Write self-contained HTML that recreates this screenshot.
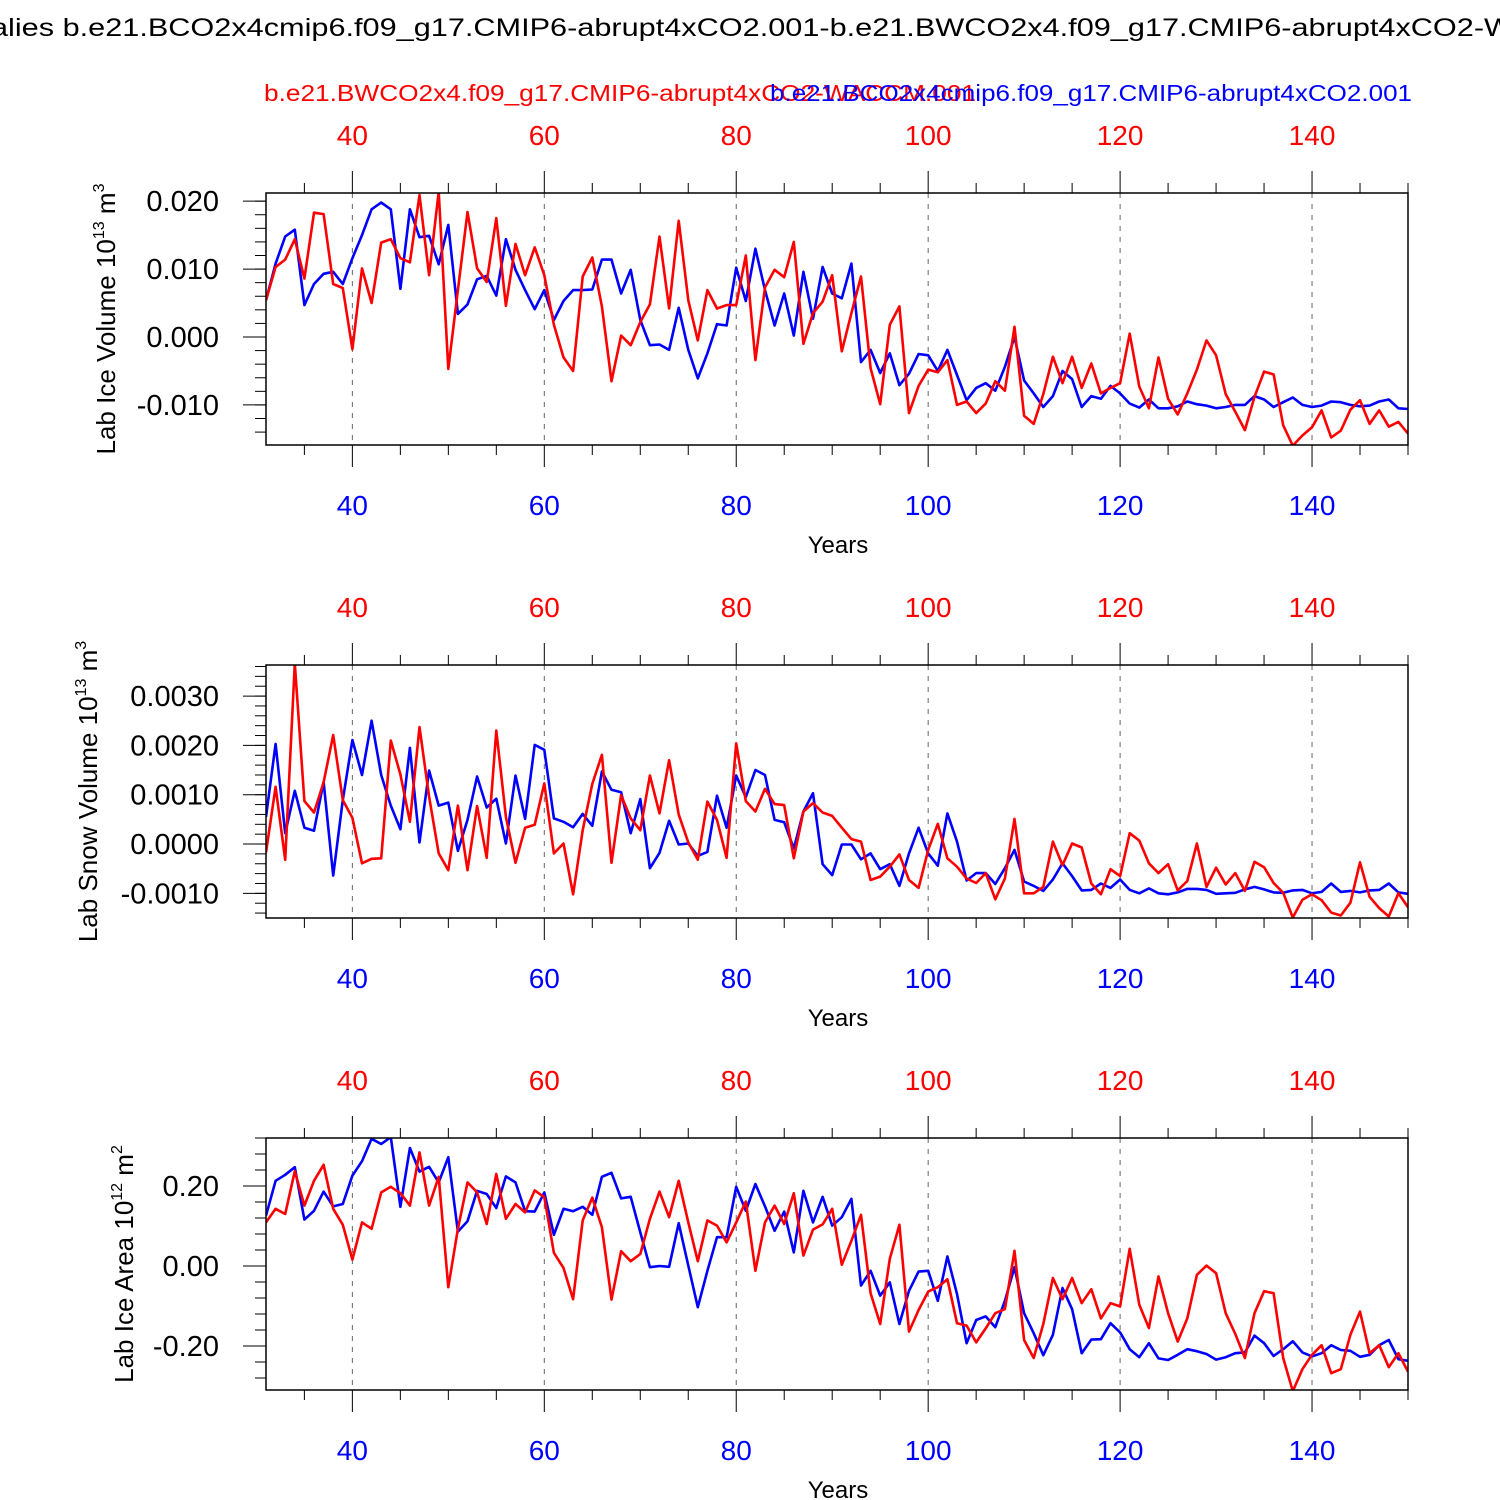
<!DOCTYPE html>
<html><head><meta charset="utf-8"><style>
html,body{margin:0;padding:0;background:#fff;width:1500px;height:1500px;overflow:hidden}
svg{font-family:"Liberation Sans",sans-serif}
</style></head><body>
<svg id="chart" width="1500" height="1500" viewBox="0 0 1500 1500" xmlns="http://www.w3.org/2000/svg">
<text x="-9" y="36" font-size="25" fill="#000" textLength="1522" lengthAdjust="spacingAndGlyphs">alies b.e21.BCO2x4cmip6.f09_g17.CMIP6-abrupt4xCO2.001-b.e21.BWCO2x4.f09_g17.CMIP6-abrupt4xCO2-W</text>
<text x="264" y="101" font-size="23" fill="#f00" textLength="712" lengthAdjust="spacingAndGlyphs">b.e21.BWCO2x4.f09_g17.CMIP6-abrupt4xCO2-WACCM.001</text>
<text x="770" y="101" font-size="23" fill="#00f" textLength="642" lengthAdjust="spacingAndGlyphs">b.e21.BCO2x4cmip6.f09_g17.CMIP6-abrupt4xCO2.001</text>
<g id="panels"></g>
</svg>
<script>
const years = Array.from({length:120},(_,i)=>31+i);
const xTicks = [40,60,80,100,120,140];

const iceVolBlue = [.0054,.0108,.0148,.0158,.0047,.0078,.0093,.0096,.0078,.0116,
.0150,.0188,.0198,.0188,.0071,.0188,.0147,.0149,.0107,.0165,
.0034,.0048,.0085,.0090,.0061,.0144,.0099,.0069,.0041,.0069,
.0025,.0053,.0069,.0069,.0070,.0114,.0114,.0064,.0099,.0025,
-.0012,-.0011,-.0019,.0043,-.0019,-.0061,-.0024,.0019,.0017,.0102,
.0053,.0130,.0069,.0017,.0064,.0002,.0096,.0027,.0103,.0064,
.0057,.0108,-.0037,-.0019,-.0053,-.0024,-.0071,-.0054,-.0025,-.0027,
-.0050,-.0019,-.0056,-.0093,-.0075,-.0068,-.0079,-.0044,.0000,-.0064,
-.0083,-.0103,-.0087,-.0050,-.0062,-.0103,-.0087,-.0091,-.0072,-.0083,
-.0098,-.0104,-.0092,-.0105,-.0105,-.0102,-.0095,-.0099,-.0101,-.0105,
-.0103,-.0100,-.0100,-.0087,-.0092,-.0103,-.0096,-.0089,-.0100,-.0103,
-.0101,-.0095,-.0096,-.0100,-.0102,-.0101,-.0095,-.0092,-.0105,-.0106];
const iceVolRed = [.0054,.0103,.0114,.0144,.0086,.0183,.0181,.0078,.0072,-.0018,
.0101,.0050,.0139,.0144,.0116,.0110,.0209,.0091,.0214,-.0047,
.0069,.0184,.0101,.0081,.0175,.0046,.0137,.0091,.0132,.0091,
.0018,-.0030,-.0050,.0089,.0117,.0045,-.0065,.0002,-.0012,.0022,
.0048,.0148,.0042,.0171,.0054,-.0005,.0069,.0042,.0047,.0047,
.0120,-.0034,.0073,.0099,.0088,.0140,-.0010,.0035,.0052,.0091,
-.0021,.0035,.0089,-.0046,-.0099,.0018,.0045,-.0112,-.0072,-.0048,
-.0052,-.0034,-.0100,-.0095,-.0112,-.0098,-.0065,-.0079,.0015,-.0116,
-.0128,-.0084,-.0029,-.0068,-.0029,-.0075,-.0039,-.0083,-.0075,-.0068,
.0005,-.0073,-.0105,-.0030,-.0091,-.0114,-.0083,-.0048,-.0005,-.0027,
-.0084,-.0110,-.0137,-.0088,-.0051,-.0055,-.0130,-.0160,-.0145,-.0133,
-.0108,-.0148,-.0138,-.0107,-.0093,-.0128,-.0108,-.0132,-.0125,-.0142];

const snowBlueK = [0.55,2.03,0.22,1.08,0.33,0.27,1.26,-0.64,0.89,2.11,
1.40,2.50,1.40,0.78,0.30,1.95,0.03,1.49,0.78,0.84,
-0.14,0.49,1.37,0.74,0.92,0.01,1.39,0.51,2.01,1.91,
0.52,0.45,0.34,0.61,0.37,1.47,1.10,1.05,0.22,0.91,
-0.49,-0.18,0.47,-0.01,0.01,-0.24,-0.16,0.98,0.33,1.39,
0.95,1.50,1.40,0.49,0.44,-0.09,0.66,1.03,-0.41,-0.63,
-0.01,-0.01,-0.31,-0.19,-0.51,-0.41,-0.85,-0.19,0.33,-0.19,
-0.44,0.62,0.05,-0.74,-0.59,-0.59,-0.81,-0.49,-0.12,-0.76,
-0.85,-0.95,-0.72,-0.39,-0.65,-0.94,-0.93,-0.80,-0.89,-0.72,
-0.93,-1.00,-0.90,-1.00,-1.02,-0.98,-0.91,-0.91,-0.93,-1.01,
-1.00,-0.99,-0.92,-0.87,-0.92,-0.98,-0.99,-0.94,-0.93,-1.00,
-0.97,-0.80,-0.97,-0.95,-0.98,-0.94,-0.93,-0.80,-0.98,-1.01];
const snowRedK = [-0.17,1.16,-0.32,3.66,0.87,0.64,1.25,2.21,0.89,0.53,
-0.39,-0.30,-0.29,2.10,1.41,0.45,2.37,0.96,-0.19,-0.53,
0.78,-0.53,0.77,-0.28,2.30,0.55,-0.38,0.33,0.39,1.23,
-0.19,0.01,-1.02,0.28,1.22,1.81,-0.38,0.99,0.52,0.28,
1.39,0.62,1.70,0.60,0.03,-0.32,0.86,0.49,-0.28,2.04,
0.87,0.66,1.12,0.81,0.79,-0.29,0.66,0.83,0.64,0.57,
0.33,0.10,0.05,-0.73,-0.66,-0.46,-0.21,-0.73,-0.89,-0.12,
0.41,-0.29,-0.46,-0.70,-0.79,-0.59,-1.12,-0.70,0.51,-1.00,
-1.00,-0.87,0.05,-0.43,0.01,-0.07,-0.80,-1.02,-0.51,-0.65,
0.22,0.07,-0.39,-0.59,-0.41,-0.94,-0.75,0.01,-0.87,-0.48,
-0.82,-0.59,-0.95,-0.36,-0.47,-0.79,-0.99,-1.49,-1.13,-1.02,
-1.14,-1.39,-1.45,-1.19,-0.37,-1.07,-1.30,-1.47,-1.00,-1.28];

const areaBlue = [0.126,0.213,0.228,0.247,0.116,0.138,0.186,0.149,0.155,0.226,
0.262,0.318,0.305,0.322,0.148,0.295,0.236,0.248,0.209,0.272,
0.086,0.112,0.188,0.180,0.145,0.224,0.209,0.137,0.136,0.184,
0.078,0.143,0.137,0.148,0.128,0.223,0.233,0.169,0.173,0.084,
-0.003,0.000,-0.002,0.107,0.001,-0.103,-0.012,0.072,0.072,0.198,
0.138,0.205,0.149,0.088,0.136,0.034,0.188,0.109,0.173,0.101,
0.122,0.168,-0.049,-0.012,-0.074,-0.041,-0.145,-0.062,-0.014,-0.012,
-0.087,0.024,-0.070,-0.193,-0.135,-0.126,-0.153,-0.087,-0.003,-0.118,
-0.168,-0.223,-0.172,-0.055,-0.108,-0.218,-0.184,-0.183,-0.143,-0.166,
-0.208,-0.228,-0.193,-0.231,-0.235,-0.222,-0.208,-0.213,-0.220,-0.234,
-0.228,-0.218,-0.216,-0.174,-0.193,-0.225,-0.208,-0.188,-0.216,-0.226,
-0.218,-0.198,-0.210,-0.212,-0.227,-0.222,-0.198,-0.185,-0.233,-0.237];
const areaRed = [0.109,0.143,0.130,0.237,0.151,0.213,0.253,0.143,0.103,0.016,
0.109,0.093,0.184,0.198,0.182,0.151,0.284,0.151,0.223,-0.053,
0.093,0.209,0.184,0.105,0.230,0.118,0.155,0.134,0.189,0.172,
0.033,-0.005,-0.083,0.114,0.171,0.097,-0.084,0.037,0.012,0.030,
0.118,0.186,0.122,0.213,0.109,0.012,0.114,0.101,0.059,0.109,
0.161,-0.012,0.109,0.151,0.105,0.182,0.026,0.091,0.104,0.143,
0.003,0.063,0.128,-0.068,-0.145,0.018,0.103,-0.164,-0.110,-0.064,
-0.053,-0.033,-0.143,-0.149,-0.191,-0.156,-0.118,-0.108,0.038,-0.185,
-0.230,-0.145,-0.030,-0.083,-0.030,-0.093,-0.058,-0.131,-0.093,-0.101,
0.043,-0.097,-0.155,-0.026,-0.118,-0.189,-0.131,-0.022,0.001,-0.018,
-0.118,-0.170,-0.230,-0.118,-0.063,-0.068,-0.230,-0.313,-0.258,-0.222,
-0.198,-0.268,-0.258,-0.172,-0.114,-0.218,-0.198,-0.253,-0.218,-0.264];

const snowBlue = snowBlueK.map(v=>v/1000);
const snowRed = snowRedK.map(v=>v/1000);

const iceVolTicks = [0.020,0.010,0.000,-0.010];
const iceVolTickLabels = ["0.020","0.010","0.000","-0.010"];
const snowTicks = [0.003,0.002,0.001,0,-0.001];
const snowTickLabels = ["0.0030","0.0020","0.0010","0.0000","-0.0010"];
const areaTicks = [0.2,0,-0.2];
const areaTickLabels = ["0.20","0.00","-0.20"];

const NS='http://www.w3.org/2000/svg';
const root=document.getElementById('panels');
function mk(tag,attrs,parent){const e=document.createElementNS(NS,tag);for(const k in attrs)e.setAttribute(k,attrs[k]);(parent||root).appendChild(e);return e;}

const X0=266,X1=1408,YR0=31,YR1=150;
const xs=yr=>X0+(yr-YR0)*(X1-X0)/(YR1-YR0);

const panels=[
 {key:'ice-volume',top:193,bot:445,ymax:0.0212,ymin:-0.0159,minor:0.002,blue:iceVolBlue,red:iceVolRed,ticks:iceVolTicks,labels:iceVolTickLabels,title:['Lab Ice Volume 10','13',' m','3'],titleX:115},
 {key:'snow-volume',top:665,bot:918,ymax:0.00363,ymin:-0.0015,minor:0.0002,blue:snowBlue,red:snowRed,ticks:snowTicks,labels:snowTickLabels,title:['Lab Snow Volume 10','13',' m','3'],titleX:97},
 {key:'ice-area',top:1138,bot:1390,ymax:0.32,ymin:-0.31,minor:0.04,blue:areaBlue,red:areaRed,ticks:areaTicks,labels:areaTickLabels,title:['Lab Ice Area 10','12',' m','2'],titleX:133}
];

panels.forEach(p=>{
  const g=mk('g',{});
  
  
  const ys=v=>p.bot-(v-p.ymin)*(p.bot-p.top)/(p.ymax-p.ymin);
  xTicks.forEach(t=>{
    const l=mk('line',{x1:xs(t),x2:xs(t),y1:p.top,y2:p.bot,stroke:'#666','stroke-width':1,'stroke-dasharray':'5,6'},g);
    
    
  });
  for(let yr=35;yr<=150;yr+=5){
    const major=xTicks.includes(yr);const len=major?22:10;
    mk('line',{x1:xs(yr),x2:xs(yr),y1:p.top,y2:p.top-len,stroke:'#000','stroke-width':1},g);
    mk('line',{x1:xs(yr),x2:xs(yr),y1:p.bot,y2:p.bot+len,stroke:'#000','stroke-width':1},g);
  }
  xTicks.forEach(t=>{
    const a=mk('text',{x:xs(t),y:p.top-48,'font-size':28,fill:'#f00','text-anchor':'middle'},g);a.textContent=t;
    
    
    const b=mk('text',{x:xs(t),y:p.bot+70,'font-size':28,fill:'#00f','text-anchor':'middle'},g);b.textContent=t;
    
    
  });
  const xt=mk('text',{x:838,y:p.bot+108,'font-size':24,fill:'#000','text-anchor':'middle'},g);xt.textContent='Years';
  
  
  const start=Math.ceil(p.ymin/p.minor-1e-6);
  for(let k=start;k*p.minor<=p.ymax+1e-9;k++){
    const y=ys(k*p.minor);
    mk('line',{x1:X0,x2:X0-11,y1:y,y2:y,stroke:'#000','stroke-width':1},g);
  }
  p.ticks.forEach((t,i)=>{
    const y=ys(t);
    mk('line',{x1:X0,x2:X0-23,y1:y,y2:y,stroke:'#000','stroke-width':1},g);
    const tl=mk('text',{x:219,y:y+10,'font-size':29,fill:'#000','text-anchor':'end'},g);tl.textContent=p.labels[i];
    
    
  });
  const cy=(p.top+p.bot)/2;
  const yt=mk('text',{x:0,y:0,'font-size':26,fill:'#000','text-anchor':'middle',transform:`translate(${p.titleX},${cy}) rotate(-90)`},g);
  
  
  const parts=p.title;
  const s1=mk('tspan',{},yt);s1.textContent=parts[0];
  const s2=mk('tspan',{dy:-11,'font-size':16},yt);s2.textContent=parts[1];
  const s3=mk('tspan',{dy:11},yt);s3.textContent=parts[2];
  const s4=mk('tspan',{dy:-11,'font-size':16},yt);s4.textContent=parts[3];
  const clip=mk('clipPath',{id:'clip-'+p.key},g);
  mk('rect',{x:X0,y:p.top,width:X1-X0,height:p.bot-p.top},clip);
  [['blue','#00f'],['red','#f00']].forEach(([n,c])=>{
    const d=p[n].map((v,i)=>(i?'L':'M')+xs(years[i]).toFixed(1)+','+ys(v).toFixed(1)).join('');
    const path=mk('path',{d:d,fill:'none',stroke:c,'stroke-width':2.6,'stroke-linejoin':'round','clip-path':`url(#clip-${p.key})`},g);
    
    
  });
  const fr=mk('rect',{x:X0,y:p.top,width:X1-X0,height:p.bot-p.top,fill:'none',stroke:'#000','stroke-width':1.5},g);
  
  
});
</script>
</body></html>
